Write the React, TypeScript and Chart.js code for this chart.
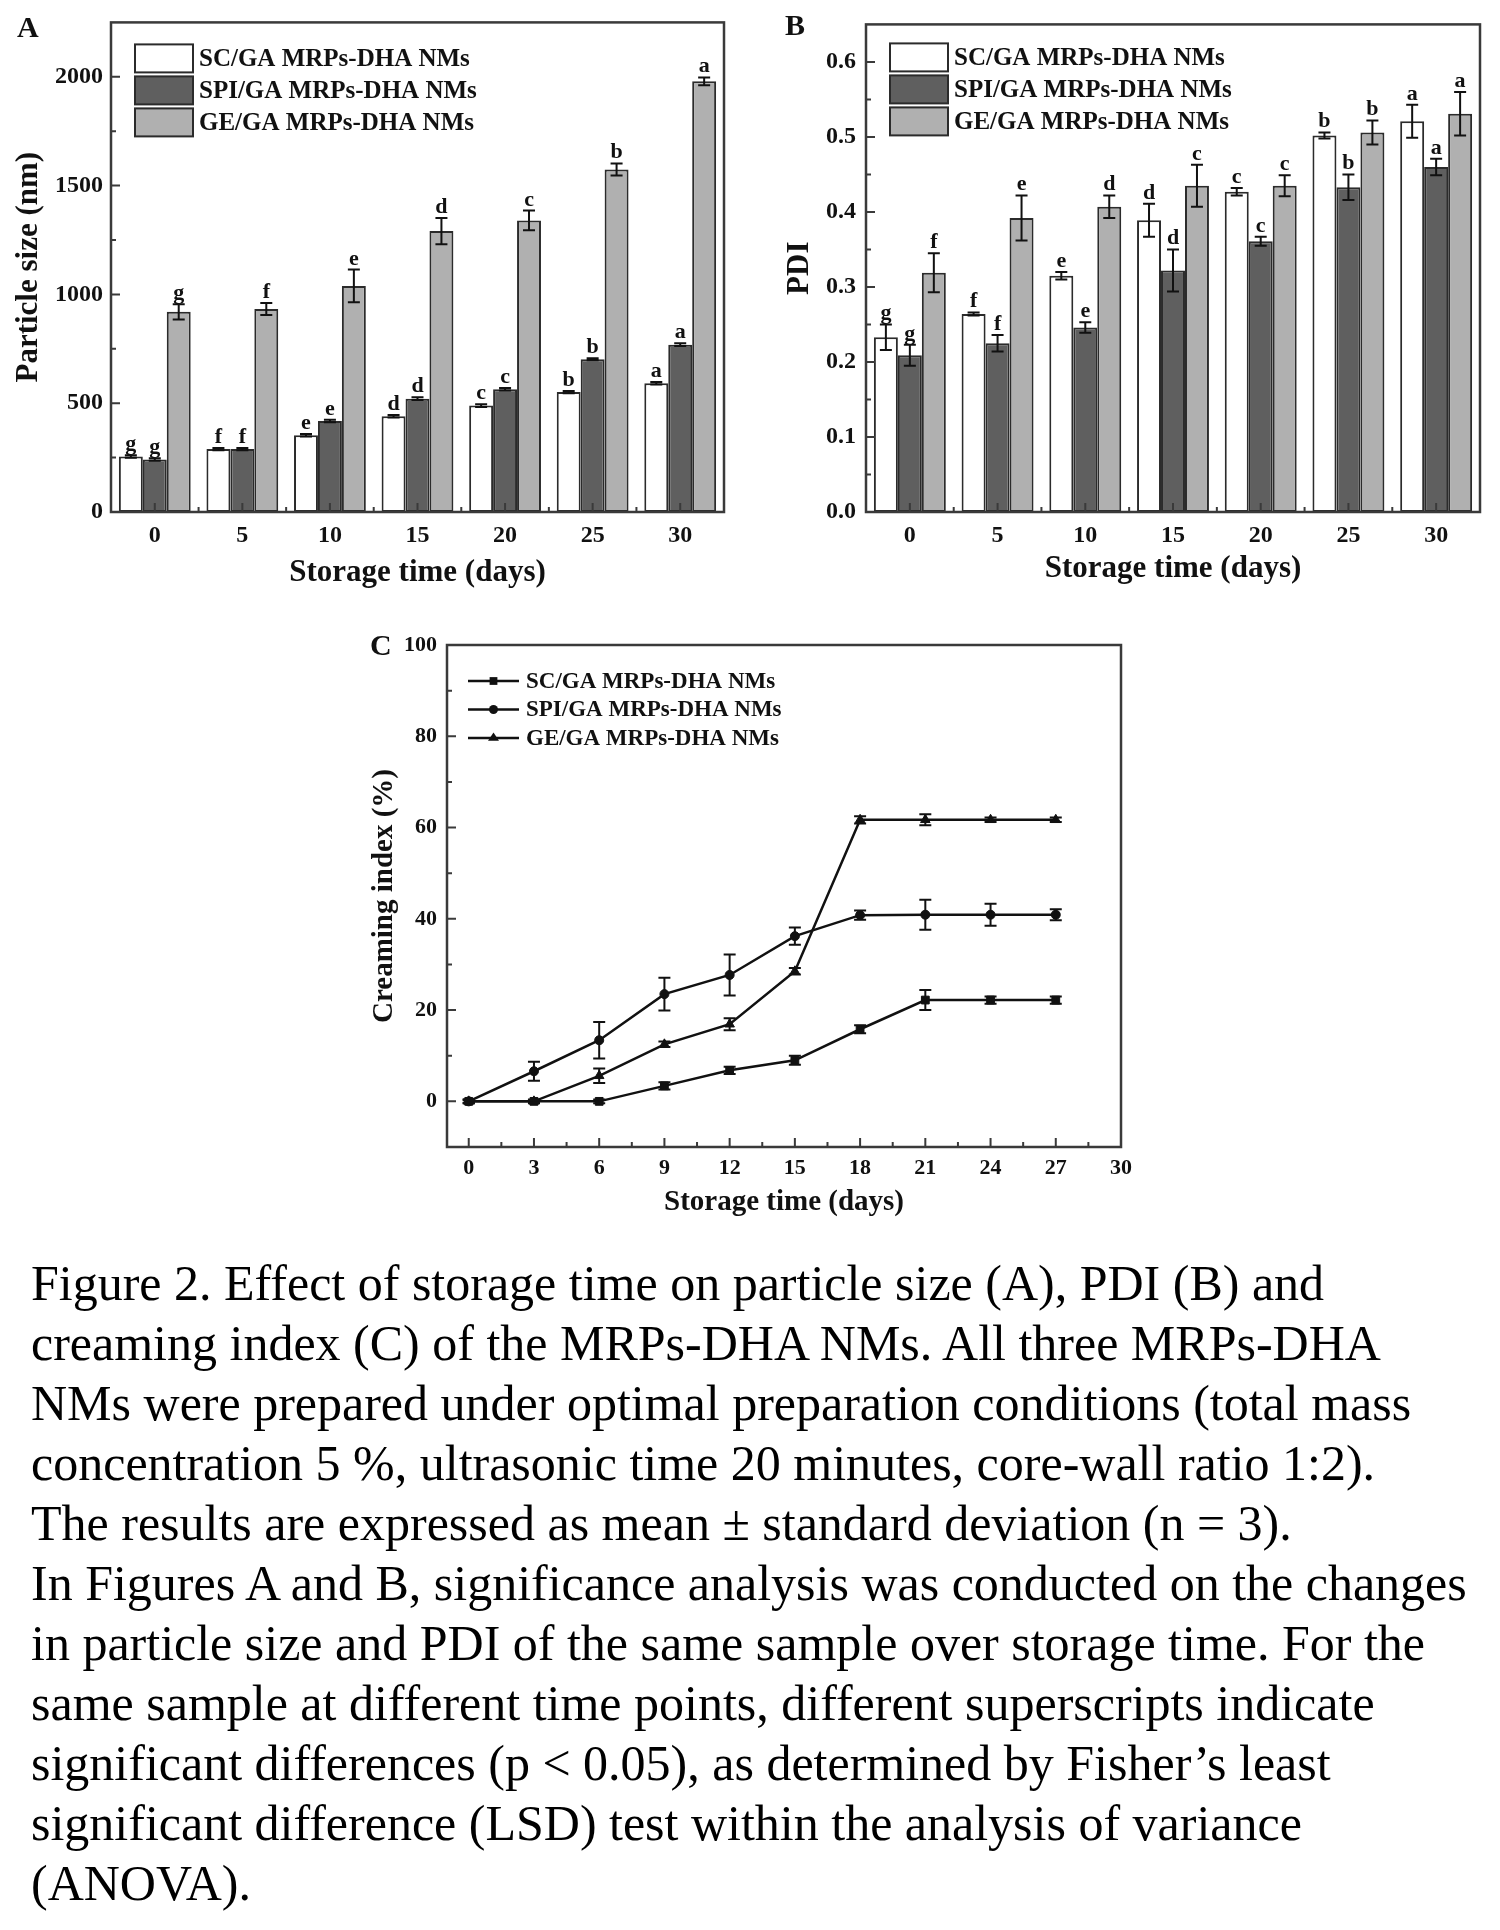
import React, { useEffect, useRef } from 'react';
import { Chart, registerables } from 'chart.js';

Chart.register(...registerables);

const FONT = "'Times New Roman', 'Liberation Serif', Times, serif";
const INK = '#111111';
const AXIS_COLOR = '#3a3a3a';
const BAR_BORDER = '#2b2b2b';
const BAR_COLORS = ['#ffffff', '#5f5f5f', '#b0b0b0'];

const seriesNames = ['SC/GA MRPs-DHA NMs', 'SPI/GA MRPs-DHA NMs', 'GE/GA MRPs-DHA NMs'];

// ---------- Panel A: particle size ----------
const daysAB = ['0', '5', '10', '15', '20', '25', '30'];
const sizeSC = [255, 289, 353, 440, 489, 551, 592];
const sizeSCErr = [6, 5, 6, 6, 6, 5, 6];
const sizeSPI = [241, 289, 418, 521, 564, 702, 769];
const sizeSPIErr = [6, 5, 6, 6, 6, 5, 6];
const sizeGE = [920, 933, 1039, 1291, 1340, 1574, 1979];
const sizeGEErr = [35, 28, 75, 60, 45, 28, 18];
const sizeSCLetters = ['g', 'f', 'e', 'd', 'c', 'b', 'a'];
const sizeSPILetters = ['g', 'f', 'e', 'd', 'c', 'b', 'a'];
const sizeGELetters = ['g', 'f', 'e', 'd', 'c', 'b', 'a'];
const sizeTicks = [0, 500, 1000, 1500, 2000];

// ---------- Panel B: PDI ----------
const pdiSC = [0.233, 0.264, 0.315, 0.389, 0.427, 0.502, 0.521];
const pdiSCErr = [0.017, 0.002, 0.005, 0.022, 0.005, 0.004, 0.022];
const pdiSPI = [0.209, 0.225, 0.246, 0.322, 0.361, 0.433, 0.46];
const pdiSPIErr = [0.014, 0.011, 0.007, 0.028, 0.006, 0.017, 0.011];
const pdiGE = [0.319, 0.392, 0.407, 0.435, 0.435, 0.506, 0.531];
const pdiGEErr = [0.026, 0.03, 0.015, 0.028, 0.014, 0.016, 0.029];
const pdiSCLetters = ['g', 'f', 'e', 'd', 'c', 'b', 'a'];
const pdiSPILetters = ['g', 'f', 'e', 'd', 'c', 'b', 'a'];
const pdiGELetters = ['f', 'e', 'd', 'c', 'c', 'b', 'a'];
const pdiTicks = [0, 0.1, 0.2, 0.3, 0.4, 0.5, 0.6];

// ---------- Panel C: creaming index ----------
const creamDays = [0, 3, 6, 9, 12, 15, 18, 21, 24, 27];
const creamSC = [0, 0, 0, 3.4, 6.8, 9.0, 15.8, 22.2, 22.2, 22.2];
const creamSCErr = [0.4, 0.4, 0.4, 0.8, 0.8, 1.0, 0.9, 2.2, 0.8, 0.8];
const creamSPI = [0, 6.6, 13.4, 23.5, 27.7, 36.2, 40.8, 40.9, 40.9, 40.9];
const creamSPIErr = [0.4, 2.1, 4.0, 3.6, 4.5, 1.9, 1.0, 3.3, 2.4, 1.2];
const creamGE = [0, 0, 5.6, 12.5, 16.9, 28.5, 61.7, 61.7, 61.7, 61.7];
const creamGEErr = [0.3, 0.3, 1.6, 0.6, 1.3, 0.7, 0.8, 1.2, 0.5, 0.5];
const creamXTicks = [0, 3, 6, 9, 12, 15, 18, 21, 24, 27, 30];
const creamYTicks = [0, 20, 40, 60, 80, 100];

const captionLines = [
  'Figure 2. Effect of storage time on particle size (A), PDI (B) and',
  'creaming index (C) of the MRPs-DHA NMs. All three MRPs-DHA',
  'NMs were prepared under optimal preparation conditions (total mass',
  'concentration 5 %, ultrasonic time 20 minutes, core-wall ratio 1:2).',
  'The results are expressed as mean ± standard deviation (n = 3).',
  'In Figures A and B, significance analysis was conducted on the changes',
  'in particle size and PDI of the same sample over storage time. For the',
  'same sample at different time points, different superscripts indicate',
  'significant differences (p < 0.05), as determined by Fisher’s least',
  'significant difference (LSD) test within the analysis of variance',
  '(ANOVA).',
];

function font(size: number) {
  return { family: FONT, size, weight: 'bold' as const };
}

function drawFrameAndTicks(chart: any) {
  const { ctx, chartArea } = chart;
  const { left, right, top, bottom } = chartArea;
  const xs = chart.scales.x;
  const ys = chart.scales.y;
  ctx.save();
  ctx.strokeStyle = AXIS_COLOR;
  ctx.lineWidth = 2;
  ctx.beginPath();
  const xp: number[] = xs.ticks.map((_: any, i: number) => xs.getPixelForTick(i));
  const yp: number[] = ys.ticks.map((_: any, i: number) => ys.getPixelForTick(i));
  xp.forEach((p) => {
    ctx.moveTo(p, bottom);
    ctx.lineTo(p, bottom - 9);
  });
  yp.forEach((p) => {
    ctx.moveTo(left, p);
    ctx.lineTo(left + 9, p);
  });
  if (xp.length > 1) {
    const st = xp[1] - xp[0];
    const cands = [xp[0] - st / 2, ...xp.map((p) => p + st / 2)];
    cands.forEach((m) => {
      if (m > left + 2 && m < right - 2) {
        ctx.moveTo(m, bottom);
        ctx.lineTo(m, bottom - 5);
      }
    });
  }
  if (yp.length > 1) {
    const st = yp[1] - yp[0];
    const cands = [yp[0] - st / 2, ...yp.map((p) => p + st / 2)];
    cands.forEach((m) => {
      if (m > top + 2 && m < bottom - 2) {
        ctx.moveTo(left, m);
        ctx.lineTo(left + 5, m);
      }
    });
  }
  ctx.stroke();
  ctx.lineWidth = 2.5;
  ctx.strokeRect(left, top, right - left, bottom - top);
  ctx.restore();
}

function drawPanelLetter(chart: any, letter: string, x: number, baseline: number) {
  const ctx = chart.ctx;
  ctx.save();
  ctx.fillStyle = INK;
  ctx.font = `bold 30px ${FONT}`;
  ctx.textAlign = 'left';
  ctx.textBaseline = 'alphabetic';
  ctx.fillText(letter, x, baseline);
  ctx.restore();
}

function makeBarPlugin(errs: number[][], letters: string[][], legendDX: number, legendDY: number, panel: string, px: number, py: number) {
  return {
    id: 'barDecor' + panel,
    afterDatasetsDraw(chart: any) {
      const ctx = chart.ctx;
      const ys = chart.scales.y;
      chart.data.datasets.forEach((ds: any, i: number) => {
        const meta = chart.getDatasetMeta(i);
        meta.data.forEach((el: any, j: number) => {
          const v = ds.data[j];
          const e = errs[i][j];
          const x = el.x;
          const t = ys.getPixelForValue(v + e);
          const b = ys.getPixelForValue(v - e);
          ctx.save();
          ctx.strokeStyle = INK;
          ctx.lineWidth = 2;
          ctx.beginPath();
          ctx.moveTo(x, t);
          ctx.lineTo(x, b);
          ctx.moveTo(x - 6, t);
          ctx.lineTo(x + 6, t);
          ctx.moveTo(x - 6, b);
          ctx.lineTo(x + 6, b);
          ctx.stroke();
          ctx.fillStyle = INK;
          ctx.font = `bold 22px ${FONT}`;
          ctx.textAlign = 'center';
          ctx.textBaseline = 'alphabetic';
          ctx.fillText(letters[i][j], x, t - 5);
          ctx.restore();
        });
      });
    },
    afterDraw(chart: any) {
      drawFrameAndTicks(chart);
      const { ctx, chartArea } = chart;
      ctx.save();
      chart.data.datasets.forEach((ds: any, i: number) => {
        const x = chartArea.left + legendDX;
        const y = chartArea.top + legendDY + i * 32;
        ctx.fillStyle = ds.backgroundColor;
        ctx.fillRect(x, y, 58, 28);
        ctx.strokeStyle = BAR_BORDER;
        ctx.lineWidth = 2;
        ctx.strokeRect(x, y, 58, 28);
        ctx.fillStyle = INK;
        ctx.font = `bold 25px ${FONT}`;
        ctx.textAlign = 'left';
        ctx.textBaseline = 'middle';
        ctx.fillText(ds.label, x + 64, y + 15);
      });
      ctx.restore();
      drawPanelLetter(chart, panel, px, py);
    },
  };
}

function drawMarker(ctx: CanvasRenderingContext2D, style: string, x: number, y: number, r: number) {
  ctx.beginPath();
  if (style === 'rect') {
    const s = r * Math.SQRT1_2;
    ctx.rect(x - s, y - s, 2 * s, 2 * s);
  } else if (style === 'circle') {
    ctx.arc(x, y, r, 0, Math.PI * 2);
  } else {
    const h = r * 1.5;
    ctx.moveTo(x, y - r);
    ctx.lineTo(x + h * 0.577 * 1.15, y + r * 0.5);
    ctx.lineTo(x - h * 0.577 * 1.15, y + r * 0.5);
    ctx.closePath();
  }
  ctx.fill();
}

function makeLinePlugin(errs: number[][]) {
  return {
    id: 'lineDecor',
    afterDatasetsDraw(chart: any) {
      const ctx = chart.ctx;
      const ys = chart.scales.y;
      chart.data.datasets.forEach((ds: any, i: number) => {
        const meta = chart.getDatasetMeta(i);
        meta.data.forEach((el: any, j: number) => {
          const v = ds.data[j].y;
          const e = errs[i][j];
          const x = el.x;
          const t = ys.getPixelForValue(v + e);
          const b = ys.getPixelForValue(v - e);
          ctx.save();
          ctx.strokeStyle = INK;
          ctx.lineWidth = 2;
          ctx.beginPath();
          ctx.moveTo(x, t);
          ctx.lineTo(x, b);
          ctx.moveTo(x - 6, t);
          ctx.lineTo(x + 6, t);
          ctx.moveTo(x - 6, b);
          ctx.lineTo(x + 6, b);
          ctx.stroke();
          ctx.restore();
        });
      });
    },
    afterDraw(chart: any) {
      drawFrameAndTicks(chart);
      const { ctx, chartArea } = chart;
      ctx.save();
      chart.data.datasets.forEach((ds: any, i: number) => {
        const x0 = chartArea.left + 21;
        const x1 = chartArea.left + 72;
        const y = chartArea.top + 36 + i * 28.5;
        ctx.strokeStyle = INK;
        ctx.lineWidth = 2.5;
        ctx.beginPath();
        ctx.moveTo(x0, y);
        ctx.lineTo(x1, y);
        ctx.stroke();
        ctx.fillStyle = INK;
        drawMarker(ctx, ds.pointStyle, (x0 + x1) / 2, y, ds.pointRadius);
        ctx.font = `bold 23px ${FONT}`;
        ctx.textAlign = 'left';
        ctx.textBaseline = 'middle';
        ctx.fillText(ds.label, chartArea.left + 79, y + 1);
      });
      ctx.restore();
      drawPanelLetter(chart, 'C', 40, 45);
    },
  };
}

function barConfig(
  values: number[][],
  errs: number[][],
  letters: string[][],
  yMax: number,
  yTicks: number[],
  yTitle: string,
  yFmt: (v: number) => string,
  yWidth: number,
  yTitlePad: number,
  xTitlePad: number,
  tickPadY: number,
  padTop: number,
  padRight: number,
  legendDX: number,
  legendDY: number,
  panel: string,
  px: number,
  py: number
): any {
  return {
    type: 'bar',
    data: {
      labels: daysAB,
      datasets: values.map((vals, i) => ({
        label: seriesNames[i],
        data: vals,
        backgroundColor: BAR_COLORS[i],
        borderColor: BAR_BORDER,
        borderWidth: 2,
        borderSkipped: false,
        categoryPercentage: 0.82,
        barPercentage: 1.0,
      })),
    },
    options: {
      responsive: false,
      animation: false,
      devicePixelRatio: 1,
      layout: { padding: { left: 0, top: padTop, right: padRight, bottom: 0 } },
      plugins: { legend: { display: false }, tooltip: { enabled: false } },
      scales: {
        x: {
          grid: { display: false, drawTicks: false },
          border: { display: false },
          ticks: { font: font(24), color: INK, padding: 9, maxRotation: 0, autoSkip: false },
          title: { display: true, text: 'Storage time (days)', font: font(31), color: INK, padding: { top: 0, bottom: xTitlePad } },
          afterFit: (s: any) => {
            s.height = 98;
          },
        },
        y: {
          min: 0,
          max: yMax,
          grid: { display: false, drawTicks: false },
          border: { display: false },
          afterBuildTicks: (s: any) => {
            s.ticks = yTicks.map((v) => ({ value: v }));
          },
          ticks: { font: font(24), color: INK, padding: tickPadY, callback: (v: any) => yFmt(Number(v)) },
          title: { display: true, text: yTitle, font: font(31), color: INK, padding: { top: yTitlePad, bottom: 0 } },
          afterFit: (s: any) => {
            s.width = yWidth;
          },
        },
      },
    },
    plugins: [makeBarPlugin(errs, letters, legendDX, legendDY, panel, px, py)],
  };
}

export default function App() {
  const refA = useRef<HTMLCanvasElement | null>(null);
  const refB = useRef<HTMLCanvasElement | null>(null);
  const refC = useRef<HTMLCanvasElement | null>(null);

  useEffect(() => {
    const charts: Chart[] = [];
    if (refA.current) {
      charts.push(
        new Chart(
          refA.current,
          barConfig(
            [sizeSC, sizeSPI, sizeGE],
            [sizeSCErr, sizeSPIErr, sizeGEErr],
            [sizeSCLetters, sizeSPILetters, sizeGELetters],
            2250,
            sizeTicks,
            'Particle size (nm)',
            (v) => String(v),
            111,
            10,
            18,
            8,
            17,
            26,
            24,
            22,
            'A',
            17,
            37
          )
        )
      );
    }
    if (refB.current) {
      charts.push(
        new Chart(
          refB.current,
          barConfig(
            [pdiSC, pdiSPI, pdiGE],
            [pdiSCErr, pdiSPIErr, pdiGEErr],
            [pdiSCLetters, pdiSPILetters, pdiGELetters],
            0.65,
            pdiTicks,
            'PDI',
            (v) => v.toFixed(1),
            116,
            31,
            22,
            10,
            18,
            20,
            24,
            19,
            'B',
            35,
            35
          )
        )
      );
    }
    if (refC.current) {
      const styles = ['rect', 'circle', 'triangle'];
      const radii = [5.5, 4.5, 5.5];
      const sets = [creamSC, creamSPI, creamGE];
      charts.push(
        new Chart(refC.current, {
          type: 'line',
          data: {
            datasets: sets.map((vals, i) => ({
              label: seriesNames[i],
              data: creamDays.map((d, j) => ({ x: d, y: vals[j] })),
              borderColor: INK,
              backgroundColor: INK,
              borderWidth: 2.5,
              pointStyle: styles[i],
              pointRadius: radii[i],
              pointBorderWidth: 1,
              pointBackgroundColor: INK,
              pointBorderColor: INK,
              tension: 0,
              fill: false,
            })),
          },
          options: {
            responsive: false,
            animation: false,
            devicePixelRatio: 1,
            layout: { padding: { left: 0, top: 35, right: 49, bottom: 0 } },
            plugins: { legend: { display: false }, tooltip: { enabled: false } },
            scales: {
              x: {
                type: 'linear',
                min: -1,
                max: 30,
                grid: { display: false, drawTicks: false },
                border: { display: false },
                afterBuildTicks: (s: any) => {
                  s.ticks = creamXTicks.map((v) => ({ value: v }));
                },
                ticks: { font: font(22), color: INK, padding: 8, maxRotation: 0, autoSkip: false, callback: (v: any) => String(v) },
                title: { display: true, text: 'Storage time (days)', font: font(29), color: INK, padding: { top: 0, bottom: 10 } },
                afterFit: (s: any) => {
                  s.height = 83;
                },
              },
              y: {
                min: -10,
                max: 100,
                grid: { display: false, drawTicks: false },
                border: { display: false },
                afterBuildTicks: (s: any) => {
                  s.ticks = creamYTicks.map((v) => ({ value: v }));
                },
                ticks: { font: font(22), color: INK, padding: 10, callback: (v: any) => String(v) },
                title: { display: true, text: 'Creaming index (%)', font: font(29), color: INK, padding: { top: 37, bottom: 0 } },
                afterFit: (s: any) => {
                  s.width = 117;
                },
              },
            },
          },
          plugins: [makeLinePlugin([creamSCErr, creamSPIErr, creamGEErr])],
        } as any)
      );
    }
    return () => {
      charts.forEach((c) => c.destroy());
    };
  }, []);

  const canvasStyle = (l: number, t: number, w: number, h: number): React.CSSProperties => ({
    position: 'absolute',
    left: l,
    top: t,
    width: w,
    height: h,
  });

  return (
    <div style={{ position: 'absolute', left: 0, top: 0, width: 1500, height: 1930, background: '#ffffff', overflow: 'hidden' }}>
      <canvas ref={refA} width={750} height={610} style={canvasStyle(0, 0, 750, 610)} />
      <canvas ref={refB} width={750} height={610} style={canvasStyle(750, 0, 750, 610)} />
      <canvas ref={refC} width={840} height={620} style={canvasStyle(330, 610, 840, 620)} />
      <div
        style={{
          position: 'absolute',
          left: 31,
          top: 1253,
          fontFamily: FONT,
          fontSize: 50,
          lineHeight: '60px',
          color: '#000',
        }}
      >
        {captionLines.map((l, i) => (
          <div key={i} style={{ whiteSpace: 'nowrap' }}>
            {l}
          </div>
        ))}
      </div>
    </div>
  );
}
